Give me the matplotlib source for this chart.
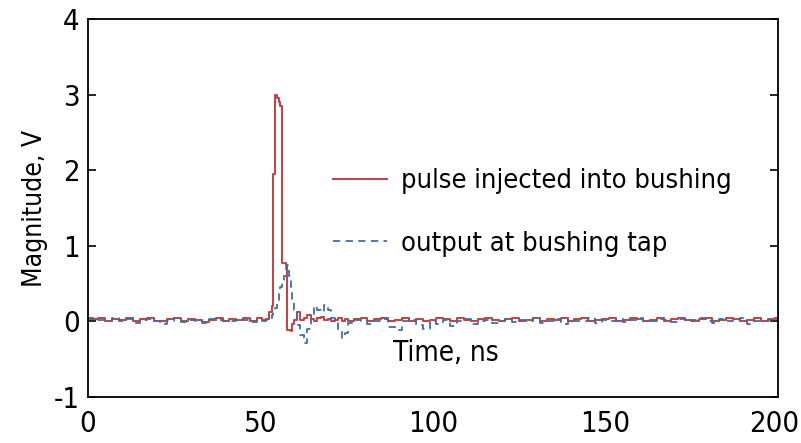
import matplotlib
matplotlib.use("Agg")
import matplotlib.pyplot as plt
import matplotlib.transforms as mtransforms

plt.rcParams['font.family'] = ['DejaVu Sans']
plt.rcParams['font.stretch'] = 'condensed'
plt.rcParams['axes.unicode_minus'] = False

# sample times, ns (finer around the pulse)
time_ns = [0, 2, 4, 6, 8, 10, 12, 14, 16, 18, 20, 22, 24, 26, 28, 30, 32, 34, 36, 38, 40, 42, 44, 46, 48, 50,
           51, 52, 53,
           53.5, 54, 54.5, 55, 55.5, 56, 56.5, 57, 57.5, 58, 58.5, 59, 59.5, 60,
           61, 62, 63, 64, 65, 66, 67, 68, 69, 70, 71, 72, 73, 74, 75, 76,
           78, 80, 82, 84, 86, 88, 90, 92, 94, 96, 98, 100, 102, 104, 106, 108, 110, 112, 114, 116, 118, 120,
           122, 124, 126, 128, 130, 132, 134, 136, 138, 140, 142, 144, 146, 148, 150, 152, 154, 156, 158, 160,
           162, 164, 166, 168, 170, 172, 174, 176, 178, 180, 182, 184, 186, 188, 190, 192, 194, 196, 198, 200]

pulse_v = [0.05, 0.03, 0.04, 0.01, 0.03, 0.02, 0.04, 0.00, 0.03, 0.05, 0.01, 0.00, 0.03, 0.05, 0.01, 0.03, 0.02, -0.01, 0.02, 0.04, 0.01, 0.03, 0.02, 0.04, 0.00, 0.04,
           0.02, 0.03, 0.12,
           0.20, 1.95, 3.00, 2.95, 2.90, 2.85, 0.77, 0.77, 0.75, -0.12, -0.12, -0.13, -0.04, 0.02,
           0.12, 0.02, 0.05, 0.08, 0.03, 0.00, 0.04, 0.06, 0.02, 0.03, 0.00, 0.02, 0.04, 0.01, 0.03, 0.00,
           0.03, 0.05, 0.01, 0.03, 0.04, 0.00, 0.02, 0.04, 0.01, 0.03, 0.00, 0.02, 0.04, 0.03, 0.01, 0.05, 0.02, 0.00, 0.03, 0.04, 0.02, 0.01,
           0.03, 0.05, 0.01, 0.02, 0.04, 0.00, 0.03, 0.02, 0.05, 0.01, 0.03, 0.04, 0.00, 0.02, 0.03, 0.05, 0.01, 0.02, 0.04, 0.03,
           0.00, 0.02, 0.04, 0.01, 0.03, 0.05, 0.02, 0.00, 0.03, 0.04, 0.01, 0.02, 0.05, 0.03, 0.00, 0.02, 0.04, 0.01, 0.03, 0.04]

tap_v = [0.03, 0.04, 0.02, 0.00, 0.04, 0.01, 0.03, -0.02, 0.02, 0.03, 0.00, -0.03, 0.01, 0.04, -0.01, 0.02, 0.00, -0.02, 0.03, 0.02, 0.00, 0.01, 0.03, 0.02, -0.01, 0.02,
         0.00, 0.02, 0.05,
         0.08, 0.12, 0.18, 0.28, 0.37, 0.45, 0.52, 0.60, 0.72, 0.74, 0.60, 0.45, 0.30, 0.15,
         -0.05, -0.18, -0.28, -0.10, 0.05, 0.20, 0.15, 0.12, 0.22, 0.15, 0.05, -0.02, -0.12, -0.22, -0.15, -0.02,
         0.02, 0.00, -0.04, 0.01, 0.03, -0.08, -0.12, 0.00, 0.02, -0.05, -0.10, 0.01, -0.03, 0.02, -0.06, 0.00, 0.03, -0.04, 0.01, 0.02, -0.02, 0.00,
         0.03, -0.01, 0.02, 0.00, 0.04, -0.02, 0.01, 0.03, -0.03, 0.02, 0.00, 0.01, 0.04, -0.02, 0.02, 0.00, 0.03, -0.01, 0.02, 0.04,
         0.01, 0.00, 0.03, 0.02, -0.01, 0.03, 0.00, 0.02, 0.04, 0.01, -0.02, 0.03, 0.00, 0.02, 0.04, -0.03, 0.01, 0.00, 0.02, 0.03]

x_ticks = [0, 50, 100, 150, 200]
y_ticks = [-1, 0, 1, 2, 3, 4]

fig = plt.figure(figsize=(8.01, 4.43), dpi=100)
ax = fig.add_axes([88 / 801, 46 / 443, 690 / 801, 378 / 443])

ax.plot(time_ns, pulse_v, color='#b84a4a', lw=1.5, drawstyle='steps-mid', label='pulse injected into bushing')
ax.plot(time_ns, tap_v, color='#3e6ea8', lw=1.3, ls=(0, (4, 3)), drawstyle='steps-mid', label='output at bushing tap')

ax.set_xlim(0, 200)
ax.set_ylim(-1, 4)
ax.set_xticks(x_ticks)
ax.set_yticks(y_ticks)
ax.tick_params(direction='in', length=6, width=1.2, labelsize=21, top=True, right=True, pad=6)
ax.tick_params(axis='x', length=0, pad=9)
for s in ax.spines.values():
    s.set_linewidth(1.3)

# keep the last x label inside the canvas
last = ax.get_xticklabels()[-1]
last.set_transform(last.get_transform() + mtransforms.ScaledTranslation(-4 / 100, 0, fig.dpi_scale_trans))

ax.set_ylabel('Magnitude, V', fontsize=19, labelpad=4)
ax.text(88.5, -0.42, 'Time, ns', fontsize=20, va='center', ha='left')

ax.legend(loc='upper left', bbox_to_anchor=(0.32, 0.67), frameon=False, fontsize=19.5,
          handlelength=2.0, handletextpad=0.5, labelspacing=1.35)

fig.savefig('out.png', dpi=100)
